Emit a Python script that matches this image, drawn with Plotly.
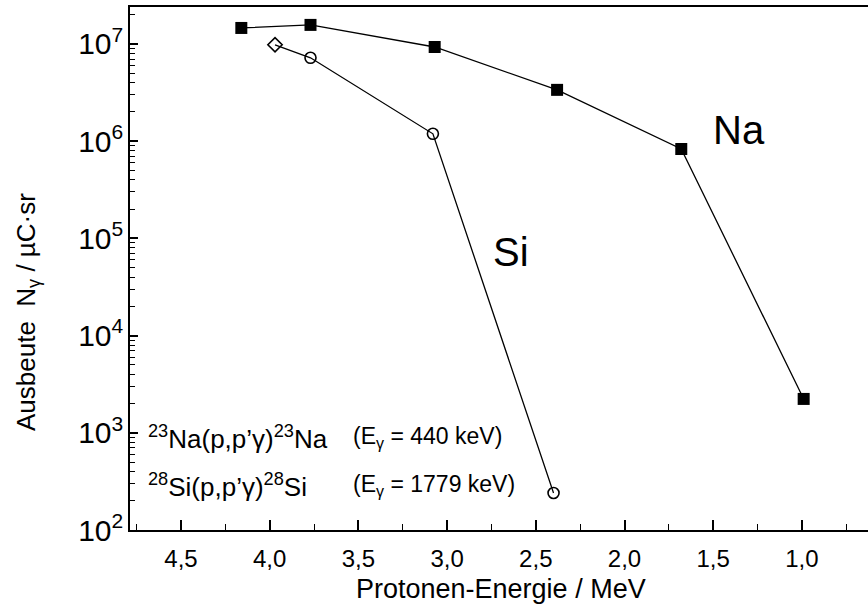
import plotly.graph_objects as go

# Proton energy (MeV) and gamma yield (per µC·sr)
na_energy = [4.16, 3.77, 3.07, 2.38, 1.68, 0.99]
na_yield = [1.46e7, 1.57e7, 9.3e6, 3.37e6, 8.3e5, 2.23e3]

si_energy = [3.97, 3.77, 3.08, 2.40]
si_yield = [9.8e6, 7.2e6, 1.19e6, 2.4e2]
si_symbols = ["diamond-open", "circle-open", "circle-open", "circle-open"]

x_ticks = [4.5, 4.0, 3.5, 3.0, 2.5, 2.0, 1.5, 1.0]
x_ticktext = ["4,5", "4,0", "3,5", "3,0", "2,5", "2,0", "1,5", "1,0"]

FONT = "Liberation Sans, Arial, Helvetica, sans-serif"
W, H = 868, 608
ML, MT, MB, MR = 130, 7, 78, 0
PW, PH = W - ML - MR, H - MT - MB


def px(x):
    return (x - ML) / PW


def py(y):
    return (H - MB - y) / PH


fig = go.Figure()

fig.add_trace(go.Scatter(
    x=na_energy, y=na_yield, mode="lines+markers",
    line=dict(color="black", width=1.3),
    marker=dict(symbol="square", size=12, color="black"),
    showlegend=False,
))

fig.add_trace(go.Scatter(
    x=si_energy, y=si_yield, mode="lines+markers",
    line=dict(color="black", width=1.3),
    marker=dict(symbol=si_symbols, size=11, color="black",
                line=dict(color="black", width=1.6)),
    showlegend=False,
))

fig.update_xaxes(
    range=[4.7875, 0.6274],
    showline=True, linecolor="black", linewidth=2, mirror=True,
    ticks="inside", ticklen=10, tickwidth=1.5, tickcolor="black",
    tickvals=x_ticks, ticktext=x_ticktext,
    minor=dict(dtick=0.25, tick0=0, ticks="inside", ticklen=6,
               tickwidth=1.2, tickcolor="black", showgrid=False),
    tickfont=dict(family=FONT, size=24, color="black"),
    ticklabelstandoff=6,
    showgrid=False, zeroline=False,
)

fig.update_yaxes(
    type="log", range=[2, 7.38],
    showline=True, linecolor="black", linewidth=2, mirror=False,
    ticks="inside", ticklen=8, tickwidth=1.5, tickcolor="black",
    dtick=1, exponentformat="power",
    minor=dict(dtick="D1", ticks="inside", ticklen=5, tickwidth=1.2,
               tickcolor="black", showgrid=False),
    tickfont=dict(family=FONT, size=24, color="black"),
    showgrid=False, zeroline=False,
)

annotations = [
    dict(text="Na", x=px(739), y=py(130), font=dict(size=40)),
    dict(text="Si", x=px(511), y=py(252), font=dict(size=40)),
    dict(text="<sup>23</sup>Na(p,p’γ)<sup>23</sup>Na", x=px(146), y=py(437),
         xanchor="left", font=dict(size=26)),
    dict(text="(E<sub>γ</sub> = 440 keV)", x=px(351), y=py(437),
         xanchor="left", font=dict(size=23)),
    dict(text="<sup>28</sup>Si(p,p’γ)<sup>28</sup>Si", x=px(146), y=py(485),
         xanchor="left", font=dict(size=26)),
    dict(text="(E<sub>γ</sub> = 1779 keV)", x=px(351), y=py(485),
         xanchor="left", font=dict(size=23)),
    dict(text="Protonen-Energie / MeV", x=px(501), y=py(589),
         font=dict(size=27)),
    dict(text="Ausbeute  N<sub>γ</sub> / µC·sr", x=px(28), y=py(312),
         textangle=-90, font=dict(size=26)),
]
for a in annotations:
    a.setdefault("xanchor", "center")
    a["yanchor"] = "middle"
    a["xref"] = "paper"
    a["yref"] = "paper"
    a["showarrow"] = False
    a["font"] = dict(family=FONT, color="black", **a["font"])
fig.update_layout(annotations=annotations)

fig.update_layout(
    width=W, height=H,
    margin=dict(l=ML, r=MR, t=MT, b=MB),
    paper_bgcolor="white", plot_bgcolor="white",
    font=dict(family=FONT, color="black"),
)

fig.write_html("out.html")
